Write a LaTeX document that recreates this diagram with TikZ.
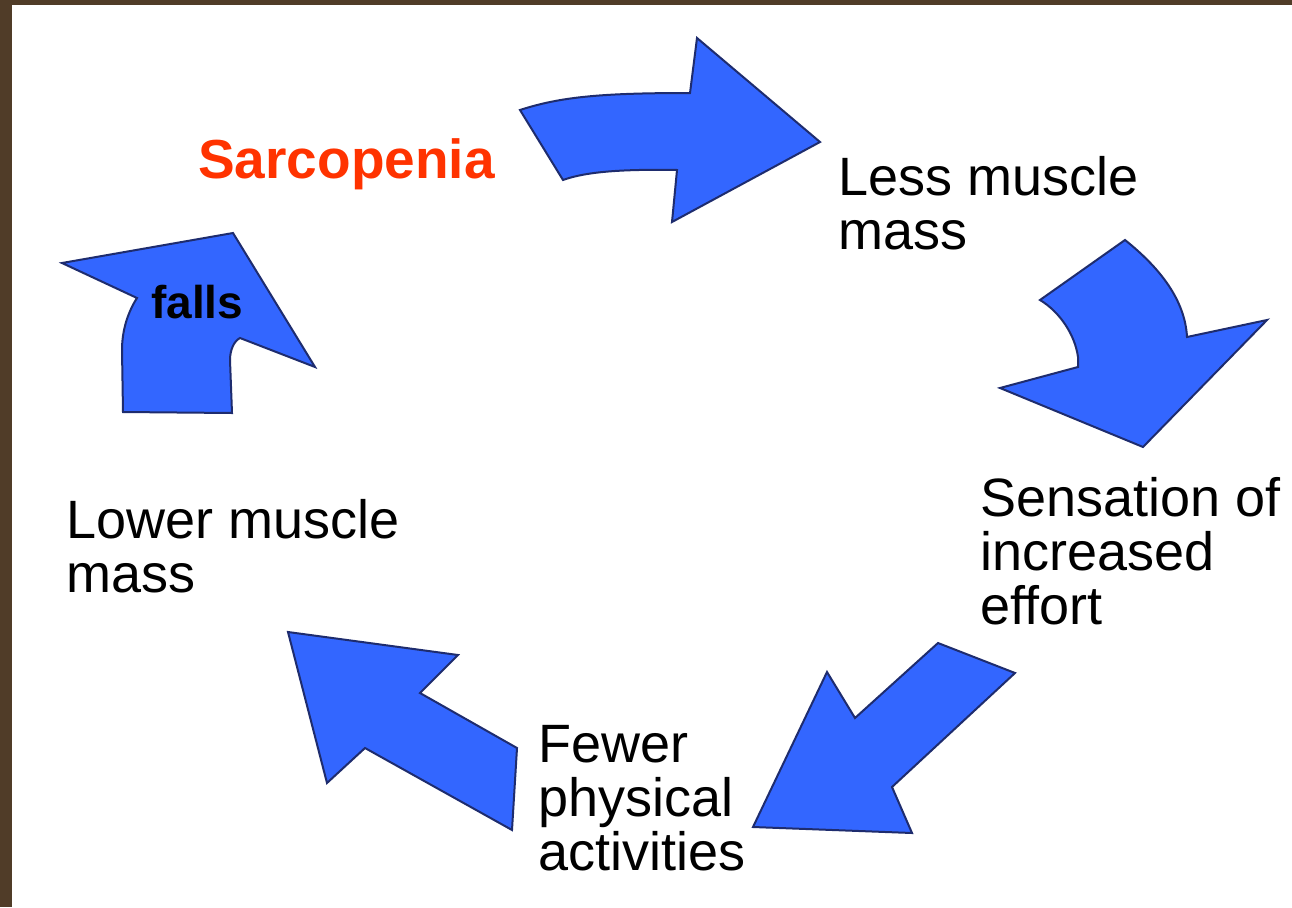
\documentclass[tikz,border=0pt]{standalone}
\usepackage{fontspec}
\setmainfont{Liberation Sans}
\definecolor{brd}{HTML}{503C28}
\definecolor{arrowblue}{HTML}{3366FF}
\definecolor{arrowedge}{HTML}{1E2C6E}
\definecolor{sarco}{HTML}{FF3300}
\begin{document}
\begin{tikzpicture}[x=1pt,y=-1pt,
  blockarrow/.style={fill=arrowblue,draw=arrowedge,line width=2pt,line join=miter},
  lbl/.style={inner sep=0pt,anchor=base west,align=left,font=\fontsize{54}{54}\selectfont}]
\useasboundingbox (0,0) rectangle (1292,907);
\fill[brd] (0,0) rectangle (1292,907);
\fill[white] (12,5) rectangle (1292,907);

% arrow 1: Sarcopenia -> Less muscle mass
\draw[blockarrow] (520,110) .. controls (560,97) and (600,93) .. (690,93)
  -- (697,38) -- (820,142) -- (672,222) -- (677,170)
  .. controls (620,169) and (585,172) .. (563,180) -- cycle;
% arrow 2: Less muscle mass -> Sensation
\draw[blockarrow] (1040,300) -- (1125,240)
  .. controls (1160,268) and (1185,300) .. (1187,337)
  -- (1267,320) -- (1143,447) -- (1000,388) -- (1078,367) -- (1078,357)
  .. controls (1075,335) and (1060,312) .. cycle;
% arrow 3: Sensation -> Fewer
\draw[blockarrow] (938,643) -- (1015,673) -- (892,787) -- (912,833)
  -- (753,827) -- (827,672) -- (855,718) -- cycle;
% arrow 4: Fewer -> Lower
\draw[blockarrow] (288,632) -- (458,655) -- (420,693) -- (517,748)
  -- (512,830) -- (365,748) -- (327,783) -- cycle;
% arrow 5: Lower -> Sarcopenia (falls)
\draw[blockarrow] (123,412) -- (232,413) -- (230,360)
  .. controls (230,350) and (234,341) .. (240,338)
  -- (315,367) -- (233,233) -- (62,263) -- (137,298)
  .. controls (128,312) and (122,330) .. (122,350) -- cycle;

% multi-line nodes: base anchor is on the last line
\node[lbl,text=sarco,font=\bfseries\fontsize{55}{55}\selectfont] (sarc) at (198,178) {Sarcopenia};
\node[lbl] (less) at (838,249) {Less muscle\\mass};
\node[lbl] (sens) at (980,624) {Sensation of\\increased\\effort};
\node[lbl] (fewer) at (538,870) {Fewer\\physical\\activities};
\node[lbl] (lower) at (66,592) {Lower muscle\\mass};
\node[lbl,font=\bfseries\fontsize{46}{46}\selectfont] (falls) at (151,318) {falls};
\end{tikzpicture}
\end{document}
